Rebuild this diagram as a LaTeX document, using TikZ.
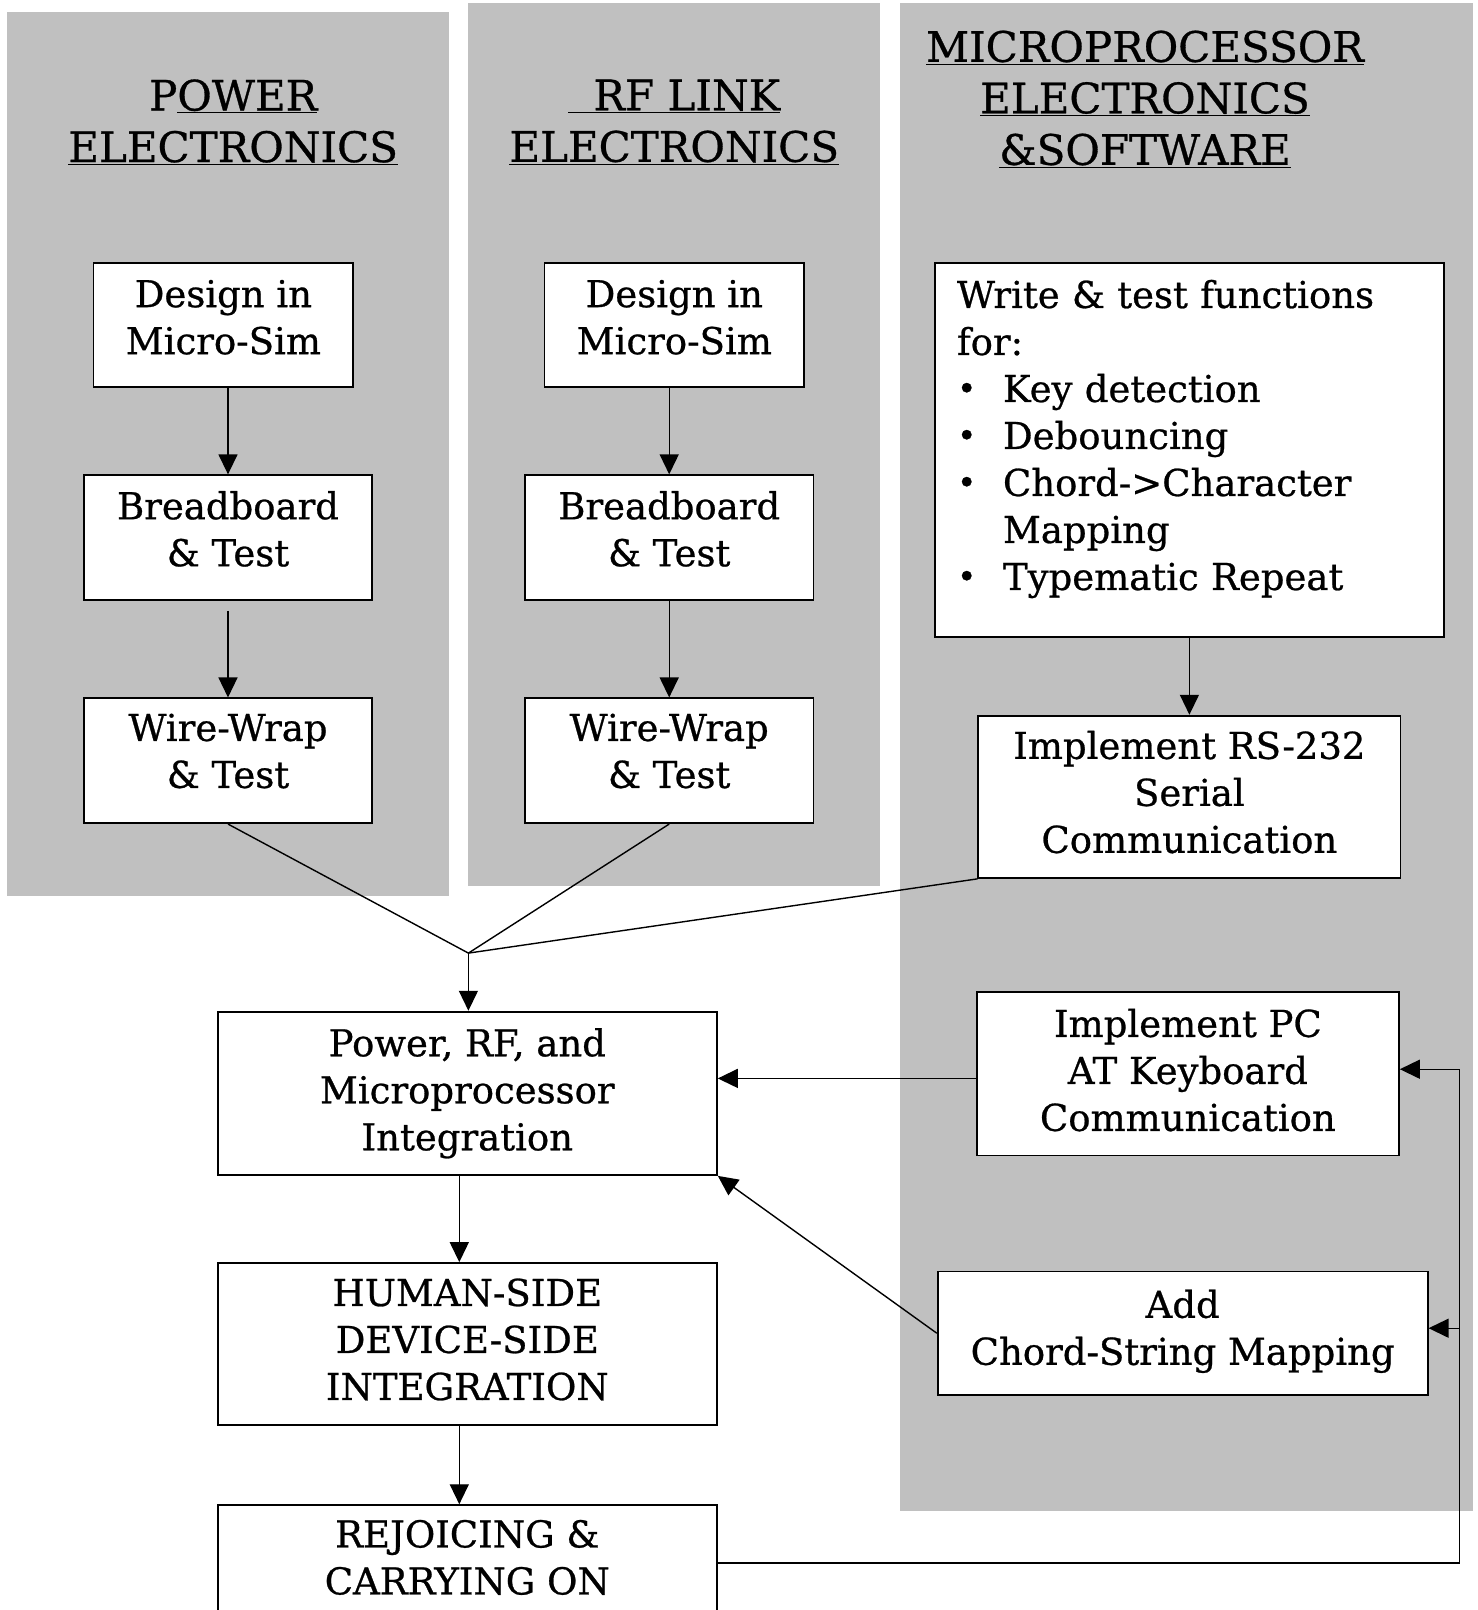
\documentclass[tikz,border=0pt]{standalone}
\usepackage{fontspec}
\setmainfont{DejaVu Serif}[FakeBold=0.7]
\usepackage{tikz}
\usetikzlibrary{arrows.meta,positioning,calc}
\definecolor{panelgray}{RGB}{192,192,192}
\newcommand{\boxfont}{\fontsize{37}{47}\selectfont}
\newcommand{\headfont}{\fontsize{42}{51.5}\selectfont}
\newcommand{\lift}[1]{\rule[-#1]{0pt}{0pt}}
\newcommand{\dotitem}{\makebox[46pt][l]{\raisebox{2pt}{\fontsize{33}{33}\selectfont\textbullet}}}
\tikzstyle{stage} = [draw, line width=1.8pt, fill=white, align=center, inner sep=0pt, font=\boxfont]
\tikzstyle{heading} = [align=center, inner sep=0pt, font=\headfont]
\tikzstyle{line} = [draw, line width=1.4pt, -{Triangle[length=20pt,width=19pt]}]
\tikzstyle{plain} = [draw, line width=1.4pt]

\begin{document}
\begin{tikzpicture}[x=1pt, y=1pt]
    \useasboundingbox (0,0) rectangle (1478,-1610);
    % background panels
    \fill [panelgray] (7.2,-12.3) rectangle (448.8,-895.6);
    \fill [panelgray] (468.4,-3.1) rectangle (880.2,-886.4);
    \fill [panelgray] (899.7,-3.1) rectangle (1472.9,-1510.9);

    % headings
    \node [heading] (powerhead) at (233.2,-122) {P\underline{OWER}\\ \underline{ELECTRONICS}};
    \node [heading] (rfhead) at (674.3,-122) {\underline{\hspace{25pt}RF LINK}\\ \underline{ELECTRONICS}};
    \node [heading] (microhead) at (1145,-99) {\underline{MICROPROCESSOR}\\ \underline{ELECTRONICS}\\ \underline{\&SOFTWARE}};

    % power column
    \node [stage, minimum width=259.8pt, minimum height=124.3pt] (design1) at (223.4,-325) {Design in\\ Micro-Sim\lift{16pt}};
    \node [stage, minimum width=287.6pt, minimum height=124.8pt, below=86.3pt of design1, xshift=4.6pt] (bread1) {Breadboard\\ \& Test\lift{18pt}};
    \node [stage, minimum width=287.6pt, minimum height=124.8pt, below=96.5pt of bread1] (wrap1) {Wire-Wrap\\ \& Test\lift{20pt}};

    % rf column
    \node [stage, minimum width=259.8pt, minimum height=124.3pt] (design2) at (674.3,-325) {Design in\\ Micro-Sim\lift{16pt}};
    \node [stage, minimum width=288.6pt, minimum height=124.8pt, below=86.3pt of design2, xshift=-5.1pt] (bread2) {Breadboard\\ \& Test\lift{18pt}};
    \node [stage, minimum width=288.6pt, minimum height=124.8pt, below=96.5pt of bread2] (wrap2) {Wire-Wrap\\ \& Test\lift{20pt}};

    % microprocessor column
    \node [stage, align=left, text width=464.8pt, inner xsep=22.3pt, minimum height=373.9pt] (funcs) at (1189.4,-449.9) {Write \& test functions\\ for:\\
        \dotitem Key detection\\
        \dotitem Debouncing\\
        \dotitem Chord->Character\\
        \hspace*{46pt}Mapping\\
        \dotitem Typematic Repeat\lift{30pt}};
    \node [stage, minimum width=422.1pt, minimum height=162.3pt, below=77pt of funcs] (serial) {Implement RS-232\\ Serial\\ Communication\lift{10pt}};
    \node [stage, minimum width=422.1pt, minimum height=163.3pt] (keyboard) at (1187.9,-1073.8) {Implement PC\\ AT Keyboard\\ Communication\lift{8pt}};
    \node [stage, minimum width=490pt, minimum height=123.3pt] (chords) at (1182.7,-1333.2) {Add\\ Chord-String Mapping\lift{12pt}};

    % integration column
    \node [stage, minimum width=499.2pt, minimum height=163.3pt] (integ) at (467.3,-1093.3) {Power, RF, and\\ Microprocessor\\ Integration\lift{4pt}};
    \node [stage, minimum width=499.2pt, minimum height=162.3pt, below=86.3pt of integ] (human) {HUMAN-SIDE\\ DEVICE-SIDE\\ INTEGRATION\lift{10pt}};
    \node [stage, minimum width=499.2pt, minimum height=116pt, below=78pt of human] (rejoice) {REJOICING \&\\ CARRYING ON\lift{12pt}};

    \coordinate (merge) at (468.4,-953.1);
    \coordinate (loop) at (1459.5,-1300);

    \path [line] (bread1.north |- design1.south) -- (bread1.north);
    \path [line] ([yshift=-10pt]bread1.south) -- (wrap1);
    \path [line] (bread2.north |- design2.south) -- (bread2.north);
    \path [line] (bread2) -- (wrap2);
    \path [line] (funcs) -- (serial);

    \path [plain] (wrap1.south) -- (merge);
    \path [plain] (wrap2.south) -- (merge);
    \path [plain] (serial.south west) -- (merge);
    \path [line] (merge) -- (merge |- integ.north);

    \path [line] ([yshift=-4.6pt]keyboard.west) -- ([yshift=-4.6pt]keyboard.west -| integ.east);
    \path [line] (chords.west) -- (integ.south east);
    \path [line] ([xshift=-8pt]integ.south) -- ([xshift=-8pt]human.north);
    \path [line] ([xshift=-8pt]human.south) -- ([xshift=-8pt]rejoice.north);

    \path [line] (rejoice.east) -| ([yshift=4.6pt]loop |- keyboard.east) -- ([yshift=4.6pt]keyboard.east);
    \path [line] ([yshift=5pt]loop |- chords.east) -- ([yshift=5pt]chords.east);
\end{tikzpicture}
\end{document}
